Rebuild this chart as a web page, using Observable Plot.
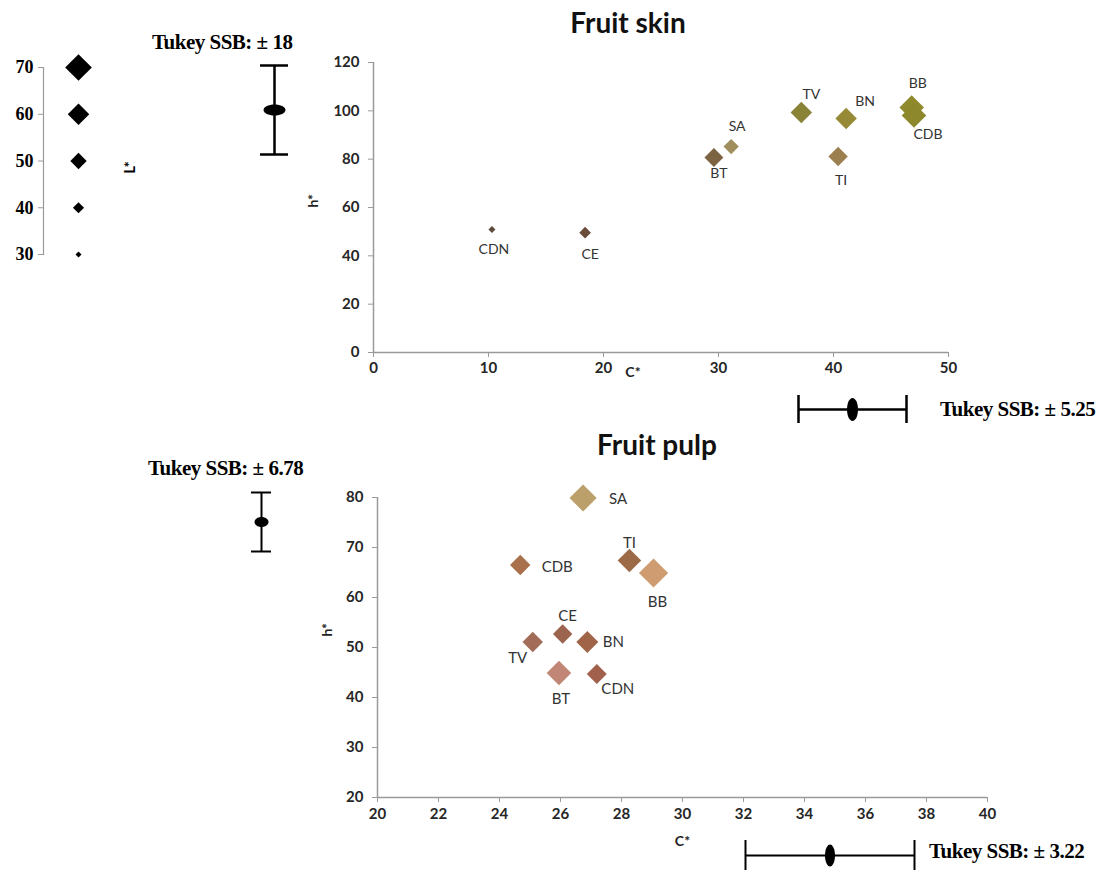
<!DOCTYPE html>
<html><head><meta charset="utf-8">
<script src="https://cdn.jsdelivr.net/npm/d3@7"></script>
<script src="https://cdn.jsdelivr.net/npm/@observablehq/plot@0.6"></script>
<style>
body{margin:0;background:#fff;}
#wrap{position:relative;width:1103px;height:872px;overflow:hidden;background:#fff;}
.title{position:absolute;font-family:Lato,sans-serif;font-weight:bold;font-size:28px;line-height:28px;color:#111;text-align:center;white-space:nowrap;width:240px;}
.tukey{position:absolute;font-family:"Liberation Serif","Times New Roman",serif;font-weight:bold;font-size:21px;line-height:21px;color:#000;white-space:nowrap;letter-spacing:-0.5px;}
</style></head><body><div id="wrap"></div>
<script>
// ---------- data ----------
const cultivars = ["CDN","CE","BT","SA","TV","BN","TI","BB","CDB"];
const skinC = [10.3, 18.4, 29.6, 31.1, 37.2, 41.1, 40.4, 46.8, 47.0];
const skinH = [50.9, 49.6, 80.7, 85.2, 99.3, 96.8, 81.1, 101.4, 98.1];
const skinL = [32, 41, 55, 48, 60, 60, 56, 66, 66];
const pulpC = [27.19, 26.07, 25.95, 26.74, 25.09, 26.88, 28.26, 29.05, 24.68];
const pulpH = [44.7, 52.7, 44.9, 79.9, 51.1, 51.1, 67.4, 64.9, 66.5];
const pulpL = [57, 56, 66, 71, 58, 61, 64, 75, 58];
const legendL = [30, 40, 50, 60, 70];
const skinXTicks = [0, 10, 20, 30, 40, 50];
const skinYTicks = [0, 20, 40, 60, 80, 100, 120];
const pulpXTicks = [20, 22, 24, 26, 28, 30, 32, 34, 36, 38, 40];
const pulpYTicks = [20, 30, 40, 50, 60, 70, 80];
const tukeySkinH = 18, tukeySkinC = 5.25, tukeyPulpH = 6.78, tukeyPulpC = 3.22;
const titles = ["Fruit skin", "Fruit pulp"];

// ---------- styles ----------
const skinColors = {CDN:"#5c4a3c", CE:"#6b4c3a", BT:"#7c6341", SA:"#a08f5c", TV:"#8a8337", BN:"#968a36", TI:"#9c7f4f", BB:"#8f8b2c", CDB:"#8c882b"};
const pulpColors = {CDN:"#a0604c", CE:"#9c644e", BT:"#c28676", SA:"#bba06c", TV:"#a36c58", BN:"#a06548", TI:"#9d6a48", BB:"#cf9c72", CDB:"#a8714c"};
const skinLabelOffset = {CDN:[2,20], CE:[5,22], BT:[5,16], SA:[6,-20], TV:[10,-18], BN:[19,-17], TI:[3,24], BB:[6,-24], CDB:[14,19]};
const pulpLabelOffset = {CDN:[21,15], CE:[5,-18], BT:[2,26], SA:[35,1], TV:[-15,16], BN:[26,0], TI:[0,-17], BB:[4,29], CDB:[37,2]};
const rScale = {type: "linear", domain: [30, 70], range: [2.7, 12]};
const axisGray = "#9a9a9a";

const skinRows = cultivars.map((name, i) => ({name, C: skinC[i], h: skinH[i], L: skinL[i]}));
const pulpRows = cultivars.map((name, i) => ({name, C: pulpC[i], h: pulpH[i], L: pulpL[i]}));

const wrap = document.getElementById("wrap");
function place(el, left, top) {
  el.style.position = "absolute";
  el.style.left = left + "px";
  el.style.top = top + "px";
  wrap.appendChild(el);
}
function ellipse(rx, ry) {
  const k = 0.5523;
  return {draw(ctx) {
    ctx.moveTo(rx, 0);
    ctx.bezierCurveTo(rx, ry * k, rx * k, ry, 0, ry);
    ctx.bezierCurveTo(-rx * k, ry, -rx, ry * k, -rx, 0);
    ctx.bezierCurveTo(-rx, -ry * k, -rx * k, -ry, 0, -ry);
    ctx.bezierCurveTo(rx * k, -ry, rx, -ry * k, rx, 0);
    ctx.closePath();
  }};
}
function labelMarks(rows, offsets, size) {
  return rows.map(d => Plot.text([d], {x: "C", y: "h", text: "name", dx: offsets[d.name][0], dy: offsets[d.name][1],
    fill: "#333", fontSize: size, fontWeight: "normal"}));
}

// ---------- L* legend ----------
const legend = Plot.plot({
  width: 140, height: 234, marginLeft: 43, marginRight: 27, marginTop: 27, marginBottom: 20,
  style: {background: "transparent", fontFamily: "Lato, sans-serif"},
  x: {type: "point", domain: ["L*"], axis: null},
  y: {domain: [30, 70]},
  r: rScale,
  marks: [
    Plot.frame({anchor: "left", stroke: axisGray, strokeWidth: 1.2}),
    Plot.axisY({ticks: legendL, tickSize: 5, tickPadding: 5, stroke: axisGray, fill: "#000", label: null,
      fontFamily: "Liberation Serif, serif", fontWeight: "bold", fontSize: 18}),
    Plot.dot(legendL, {x: () => "L*", y: d => d, r: d => d, symbol: "diamond2", fill: "#000"}),
    Plot.text(["L*"], {frameAnchor: "right", dx: 17, rotate: -90, fontWeight: "bold", fontSize: 15, fill: "#000"})
  ]
});
place(legend, 0, 40);

// ---------- Fruit skin ----------
const skin = Plot.plot({
  width: 660, height: 352, marginLeft: 73, marginRight: 12, marginTop: 22, marginBottom: 40,
  style: {background: "transparent", fontFamily: "Lato, sans-serif"},
  x: {domain: [skinXTicks[0], skinXTicks[skinXTicks.length - 1]]},
  y: {domain: [skinYTicks[0], skinYTicks[skinYTicks.length - 1]]},
  r: rScale,
  color: {domain: cultivars, range: cultivars.map(n => skinColors[n])},
  marks: [
    Plot.ruleX([skinXTicks[0]], {stroke: axisGray, strokeWidth: 1.5}),
    Plot.ruleY([skinYTicks[0]], {stroke: axisGray, strokeWidth: 1.5}),
    Plot.axisX({ticks: skinXTicks, tickSize: 5, tickPadding: 5, stroke: axisGray, fill: "#262626", fontWeight: "bold", fontSize: 15, label: null}),
    Plot.axisY({ticks: skinYTicks, tickSize: 5, tickPadding: 9, stroke: axisGray, fill: "#262626", fontWeight: "bold", fontSize: 15, label: null}),
    Plot.dot(skinRows, {x: "C", y: "h", r: "L", fill: "name", symbol: "diamond2"}),
    ...labelMarks(skinRows, skinLabelOffset, 14),
    Plot.text(["C*"], {frameAnchor: "bottom", dx: -28, dy: 24, fontWeight: "bold", fontSize: 14, fill: "#222"}),
    Plot.text(["h*"], {frameAnchor: "left", dx: -60, rotate: -90, fontWeight: "bold", fontSize: 14, fill: "#222"})
  ]
});
place(skin, 300, 40);

// ---------- Fruit pulp ----------
const pulp = Plot.plot({
  width: 702, height: 382, marginLeft: 77, marginRight: 15, marginTop: 27, marginBottom: 55,
  style: {background: "transparent", fontFamily: "Lato, sans-serif"},
  x: {domain: [pulpXTicks[0], pulpXTicks[pulpXTicks.length - 1]]},
  y: {domain: [pulpYTicks[0], pulpYTicks[pulpYTicks.length - 1]]},
  r: rScale,
  color: {domain: cultivars, range: cultivars.map(n => pulpColors[n])},
  marks: [
    Plot.ruleX([pulpXTicks[0]], {stroke: axisGray, strokeWidth: 1.5}),
    Plot.ruleY([pulpYTicks[0]], {stroke: axisGray, strokeWidth: 1.5}),
    Plot.axisX({ticks: pulpXTicks, tickSize: 5, tickPadding: 6, stroke: axisGray, fill: "#262626", fontWeight: "bold", fontSize: 15, label: null}),
    Plot.axisY({ticks: pulpYTicks, tickSize: 5, tickPadding: 9, stroke: axisGray, fill: "#262626", fontWeight: "bold", fontSize: 15, label: null}),
    Plot.dot(pulpRows, {x: "C", y: "h", r: "L", fill: "name", symbol: "diamond2"}),
    ...labelMarks(pulpRows, pulpLabelOffset, 15),
    Plot.text(["C*"], {frameAnchor: "bottom", dy: 48, fontWeight: "bold", fontSize: 14, fill: "#222"}),
    Plot.text(["h*"], {frameAnchor: "left", dx: -50, dy: -11, rotate: -90, fontWeight: "bold", fontSize: 14, fill: "#222"})
  ]
});
place(pulp, 300, 470);

// ---------- Tukey SSB bars ----------
function tukeyV(ssb, len, capW, rx, ry, sw) {
  const pad = 3;
  return Plot.plot({
    width: capW + 4, height: len + 2 * pad, marginLeft: 2, marginRight: 2, marginTop: pad, marginBottom: pad,
    style: {background: "transparent"},
    x: {domain: [-1, 1], axis: null}, y: {domain: [-ssb, ssb], axis: null},
    marks: [
      Plot.ruleX([0], {y1: () => -ssb, y2: () => ssb, stroke: "#000", strokeWidth: sw}),
      Plot.tickY([-ssb, ssb], {stroke: "#000", strokeWidth: sw}),
      Plot.dot([0], {x: d => d, y: d => d, r: 5, symbol: ellipse(rx, ry), fill: "#000", stroke: "none"})
    ]
  });
}
function tukeyH(ssb, len, capH, rx, ry, sw) {
  const pad = 3;
  return Plot.plot({
    width: len + 2 * pad, height: capH + 4, marginLeft: pad, marginRight: pad, marginTop: 2, marginBottom: 2,
    style: {background: "transparent"},
    x: {domain: [-ssb, ssb], axis: null}, y: {domain: [-1, 1], axis: null},
    marks: [
      Plot.ruleY([0], {x1: () => -ssb, x2: () => ssb, stroke: "#000", strokeWidth: sw}),
      Plot.tickX([-ssb, ssb], {stroke: "#000", strokeWidth: sw}),
      Plot.dot([0], {x: d => d, y: d => d, r: 5, symbol: ellipse(rx, ry), fill: "#000", stroke: "none"})
    ]
  });
}
place(tukeyV(tukeySkinH, 89, 28, 11, 5.5, 2.5), 258, 62);
place(tukeyH(tukeySkinC, 108, 28, 5.5, 11.5, 2.5), 795, 393);
place(tukeyV(tukeyPulpH, 59, 20, 7, 5, 2), 249, 489);
place(tukeyH(tukeyPulpC, 169, 30, 5, 11, 2), 742, 838);

// ---------- texts ----------
function addDiv(cls, text, left, top) {
  const d = document.createElement("div");
  d.className = cls; d.textContent = text;
  d.style.left = left + "px"; d.style.top = top + "px";
  wrap.appendChild(d);
}
addDiv("title", titles[0], 508, 8);
addDiv("title", titles[1], 537, 430);
addDiv("tukey", "Tukey SSB: \u00b1 " + tukeySkinH, 152, 32);
addDiv("tukey", "Tukey SSB: \u00b1 " + tukeySkinC, 940, 399);
addDiv("tukey", "Tukey SSB: \u00b1 " + tukeyPulpH, 148, 458);
addDiv("tukey", "Tukey SSB: \u00b1 " + tukeyPulpC, 929, 841);
</script></body></html>
